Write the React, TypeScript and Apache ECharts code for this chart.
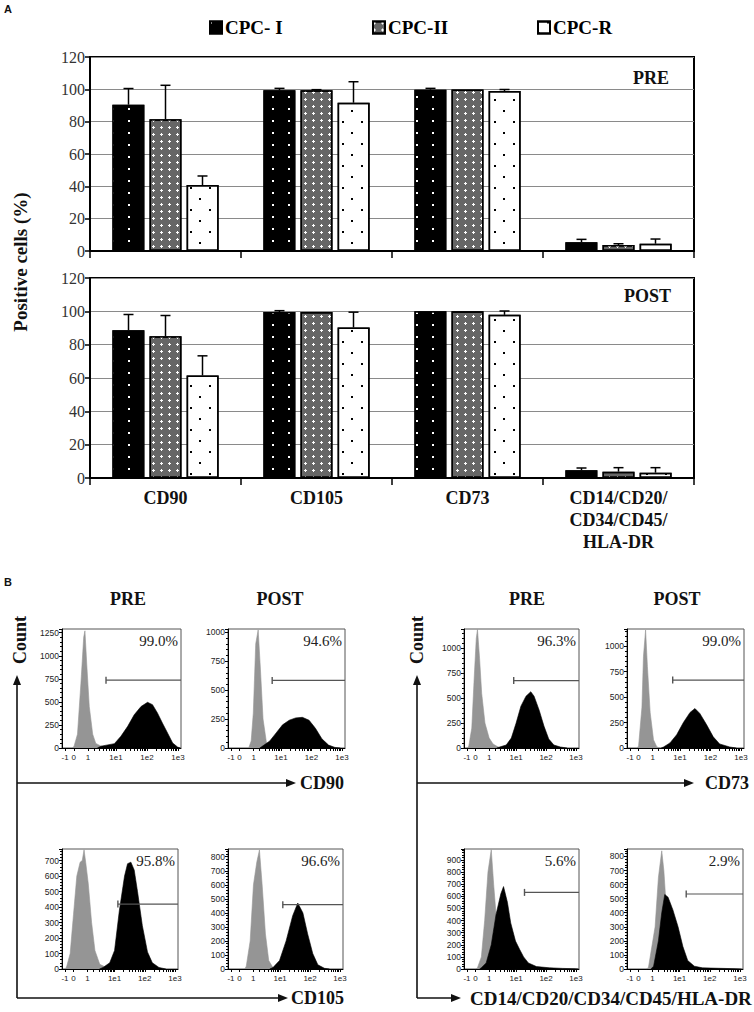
import React, { useEffect, useRef } from 'react';
import * as echarts from 'echarts';

const SERIF = '"Liberation Serif", "Times New Roman", serif';
const SANS = '"Liberation Sans", Arial, sans-serif';

// ---------- Panel A data ----------
const markers = ['CD90', 'CD105', 'CD73', 'CD14/CD20/\nCD34/CD45/\nHLA-DR'];
const groups = ['CPC- I', 'CPC-II', 'CPC-R'];

const preCPCI = [90.5, 99.4, 99.8, 5.4];
const preCPCII = [81.5, 99.4, 99.9, 3.7];
const preCPCR = [40.8, 91.7, 98.9, 4.5];
const preCPCIErr = [10, 1.2, 0.8, 1.8];
const preCPCIIErr = [21, 0.4, 0, 0.8];
const preCPCRErr = [5.6, 13, 1, 2.9];

const postCPCI = [88.7, 99.6, 100, 4.6];
const postCPCII = [85.1, 99.6, 100, 3.8];
const postCPCR = [61.5, 90.3, 97.9, 3.2];
const postCPCIErr = [9.4, 0.8, 0, 1.4];
const postCPCIIErr = [12.4, 0, 0, 2.4];
const postCPCRErr = [11.8, 9.2, 2.3, 3.0];

// ---------- Panel B data (display units: -1,0,1,1e1,1e2,1e3 on a biexponential scale) ----------
const xTickLabels = ['-1', '0', '1', '1e1', '1e2', '1e3'];
const xTickPos = [-0.64, -0.36, 0.1, 1, 2, 3];

const cd90PreIso = [[-0.4, 0], [-0.35, 20], [-0.24, 150], [-0.13, 700], [-0.04, 1200], [0, 1270], [0.06, 900], [0.14, 450], [0.25, 150], [0.35, 50], [0.52, 20], [0.73, 5], [0.9, 0]];
const cd90PreStain = [[0.4, 0], [0.52, 20], [0.95, 47], [1.16, 127], [1.38, 235], [1.59, 360], [1.81, 450], [2.02, 495], [2.18, 470], [2.34, 380], [2.5, 270], [2.67, 160], [2.83, 55], [2.99, 10], [3.08, 0]];
const cd90PostIso = [[-0.06, 0], [0.02, 60], [0.09, 300], [0.17, 900], [0.25, 1020], [0.32, 700], [0.41, 250], [0.52, 50], [0.65, 0]];
const cd90PostStain = [[0.3, 0], [0.36, 10], [0.63, 60], [0.84, 130], [1.05, 200], [1.27, 240], [1.48, 260], [1.7, 265], [1.92, 240], [2.13, 170], [2.34, 80], [2.56, 25], [2.77, 5], [2.95, 0]];
const cd73PreIso = [[-0.62, 0], [-0.58, 20], [-0.48, 200], [-0.4, 700], [-0.33, 1100], [-0.29, 1190], [-0.22, 900], [-0.15, 550], [-0.04, 250], [0.1, 100], [0.23, 40], [0.4, 10], [0.55, 0]];
const cd73PreStain = [[0.35, 0], [0.45, 10], [0.67, 30], [0.84, 100], [1.0, 250], [1.16, 420], [1.33, 520], [1.49, 565], [1.6, 520], [1.77, 380], [1.93, 220], [2.09, 90], [2.26, 30], [2.48, 10], [2.7, 0]];
const cd73PostIso = [[-0.4, 0], [-0.36, 20], [-0.25, 400], [-0.2, 900], [-0.13, 1160], [-0.07, 800], [0.02, 350], [0.13, 80], [0.24, 10], [0.35, 0]];
const cd73PostStain = [[0.38, 0], [0.46, 10], [0.67, 50], [0.89, 130], [1.11, 250], [1.33, 350], [1.49, 388], [1.65, 340], [1.87, 230], [2.09, 110], [2.3, 40], [2.63, 10], [2.85, 0]];
const cd105PreIso = [[-0.62, 0], [-0.58, 20], [-0.47, 100], [-0.36, 350], [-0.25, 600], [-0.14, 690], [-0.07, 700], [-0.01, 770], [0.05, 680], [0.13, 550], [0.24, 300], [0.35, 120], [0.51, 30], [0.73, 10], [0.9, 0]];
const cd105PreStain = [[0.5, 0], [0.62, 10], [0.84, 40], [1.0, 120], [1.16, 380], [1.33, 600], [1.43, 680], [1.54, 690], [1.65, 640], [1.76, 500], [1.92, 280], [2.09, 110], [2.25, 40], [2.47, 10], [2.7, 0]];
const cd105PostIso = [[-0.18, 0], [-0.13, 20], [0.0, 200], [0.11, 600], [0.22, 760], [0.31, 848], [0.4, 600], [0.51, 250], [0.62, 60], [0.76, 10], [0.9, 0]];
const cd105PostStain = [[0.65, 0], [0.76, 10], [0.98, 60], [1.2, 200], [1.42, 380], [1.59, 470], [1.76, 400], [1.92, 250], [2.09, 110], [2.26, 30], [2.48, 5], [2.65, 0]];
const linPreIso = [[-0.35, 0], [-0.29, 10], [-0.16, 100], [-0.05, 400], [0.06, 800], [0.17, 985], [0.25, 700], [0.33, 450], [0.44, 200], [0.6, 50], [0.82, 10], [1.0, 0]];
const linPreStain = [[-0.22, 0], [-0.16, 10], [0.0, 50], [0.17, 200], [0.33, 450], [0.49, 620], [0.58, 680], [0.71, 550], [0.82, 380], [0.98, 230], [1.12, 160], [1.25, 100], [1.41, 50], [1.68, 20], [2.11, 10], [2.55, 5], [2.98, 2], [3.08, 0]];
const linPostIso = [[-0.1, 0], [-0.03, 10], [0.19, 300], [0.3, 650], [0.41, 840], [0.48, 700], [0.57, 400], [0.68, 150], [0.84, 30], [1.0, 5], [1.1, 0]];
const linPostStain = [[0.05, 0], [0.14, 20], [0.3, 200], [0.41, 400], [0.51, 530], [0.62, 510], [0.78, 420], [0.95, 300], [1.11, 160], [1.27, 60], [1.49, 20], [1.76, 8], [2.3, 5], [2.84, 2], [3.05, 0]];

const histYMax = [1290, 1028, 1195, 1170, 775, 855, 990, 853];
const histYStep = [250, 250, 250, 250, 100, 100, 100, 100];
const histGateStart = [0.68, 0.71, 0.92, 0.76, 1.11, 1.09, 1.28, 1.22];
const histGateLevel = [735, 584, 677, 668, 419, 458, 632, 533];
const histPercent = ['99.0%', '94.6%', '96.3%', '99.0%', '95.8%', '96.6%', '5.6%', '2.9%'];
const histIso = [cd90PreIso, cd90PostIso, cd73PreIso, cd73PostIso, cd105PreIso, cd105PostIso, linPreIso, linPostIso];
const histStain = [cd90PreStain, cd90PostStain, cd73PreStain, cd73PostStain, cd105PreStain, cd105PostStain, linPreStain, linPostStain];

// ---------- layout ----------
const X_MIN = -0.74;
const X_MAX = 3.1;
const histBoxes = [
  { left: 62, top: 629, width: 119, height: 119 },
  { left: 228, top: 629, width: 117, height: 119 },
  { left: 464, top: 629, width: 115, height: 119 },
  { left: 627, top: 629, width: 117, height: 119 },
  { left: 62, top: 849, width: 116, height: 120 },
  { left: 228, top: 849, width: 115, height: 120 },
  { left: 464, top: 849, width: 115, height: 120 },
  { left: 627, top: 849, width: 116, height: 120 },
];
const BAR_W = 32;
const BAR_STEP = 37;

const minorX: number[] = [];
[0, 1, 2].forEach((d) => {
  for (let k = 2; k <= 9; k++) minorX.push(d + Math.log10(k));
});
const xTickAll = [...xTickPos, ...minorX.filter((v) => v > 0.25 && v < X_MAX)];

const barStyles = [
  {
    color: '#000',
    borderColor: '#000',
    borderWidth: 1.5,
    decal: { symbol: 'rect', symbolSize: 1, color: '#ffffff', dashArrayX: [1.6, 13.4], dashArrayY: [1.6, 9.4] },
  },
  {
    color: '#666666',
    borderColor: '#000',
    borderWidth: 1.5,
    decal: {
      symbol: 'path://M1 0H2V1H3V2H2V3H1V2H0V1H1Z',
      symbolSize: 1,
      color: '#ffffff',
      dashArrayX: [3, 4.5],
      dashArrayY: [3, 4],
    },
  },
  {
    color: '#ffffff',
    borderColor: '#000',
    borderWidth: 1.5,
    decal: {
      symbol: 'rect',
      symbolSize: 1,
      color: '#000000',
      dashArrayX: [[1.6, 16.4], [0, 9, 1.6, 7.4]],
      dashArrayY: [1.6, 8.4],
    },
  },
];

function buildOption() {
  const grid: any[] = [
    { left: 90, top: 57, width: 604, height: 194, show: true, borderColor: '#000', borderWidth: 2 },
    { left: 90, top: 278, width: 604, height: 200, show: true, borderColor: '#000', borderWidth: 2 },
  ];
  const xAxis: any[] = [];
  const yAxis: any[] = [];
  const series: any[] = [];

  [0, 1].forEach((g) => {
    xAxis.push({
      type: 'category',
      gridIndex: g,
      data: markers,
      axisLine: { lineStyle: { color: '#000', width: 2 } },
      axisTick: { show: true, length: 7, lineStyle: { color: '#000', width: 1.5 } },
      axisLabel:
        g === 1
          ? { show: true, interval: 0, fontFamily: SERIF, fontWeight: 'bold', fontSize: 18, color: '#111', lineHeight: 22, margin: 9 }
          : { show: false },
    });
    yAxis.push({
      type: 'value',
      gridIndex: g,
      min: 0,
      max: 120,
      interval: 20,
      axisLine: { show: true, lineStyle: { color: '#000', width: 2 } },
      axisTick: { show: true, length: 5, lineStyle: { color: '#000', width: 1.5 } },
      axisLabel: { fontFamily: SERIF, fontSize: 16, color: '#333', margin: 5 },
      splitLine: { show: true, lineStyle: { color: '#8a8a8a', width: 1.2 } },
    });
  });

  const panelA = [
    { g: 0, vals: [preCPCI, preCPCII, preCPCR], errs: [preCPCIErr, preCPCIIErr, preCPCRErr] },
    { g: 1, vals: [postCPCI, postCPCII, postCPCR], errs: [postCPCIErr, postCPCIIErr, postCPCRErr] },
  ];
  panelA.forEach(({ g, vals, errs }) => {
    vals.forEach((v, k) => {
      series.push({
        type: 'bar',
        name: groups[k],
        xAxisIndex: g,
        yAxisIndex: g,
        data: v,
        barWidth: BAR_W,
        barGap: '16%',
        itemStyle: barStyles[k],
        z: 2,
      });
    });
    vals.forEach((v, k) => {
      series.push({
        type: 'custom',
        name: 'err-' + g + '-' + k,
        xAxisIndex: g,
        yAxisIndex: g,
        z: 4,
        silent: true,
        data: v.map((val, i) => [i, val, val + errs[k][i]]),
        encode: { x: 0, y: [1, 2] },
        renderItem: (params: any, api: any) => {
          const i = api.value(0);
          const lo = api.value(1);
          const hi = api.value(2);
          if (hi - lo < 0.05) return null;
          const p0 = api.coord([i, lo]);
          const p1 = api.coord([i, hi]);
          const x = p0[0] + (k - 1) * BAR_STEP;
          const st = { stroke: '#000', lineWidth: 1.5 };
          return {
            type: 'group',
            children: [
              { type: 'line', shape: { x1: x, y1: p0[1], x2: x, y2: p1[1] }, style: st },
              { type: 'line', shape: { x1: x - 5, y1: p1[1], x2: x + 5, y2: p1[1] }, style: st },
            ],
          };
        },
      });
    });
  });

  const graphic: any[] = [];

  histBoxes.forEach((box, h) => {
    const g = 2 + h;
    grid.push({ ...box, show: true, borderColor: '#555', borderWidth: 1 });
    xAxis.push({
      type: 'value',
      gridIndex: g,
      min: X_MIN,
      max: X_MAX,
      axisLine: { show: true, onZero: false, lineStyle: { color: '#000', width: 1 } },
      axisTick: { show: true, customValues: xTickAll, length: 3, lineStyle: { color: '#000', width: 1 } },
      axisLabel: {
        customValues: xTickPos,
        formatter: (v: number) => {
          const idx = xTickPos.findIndex((p) => Math.abs(p - v) < 1e-6);
          return idx >= 0 ? xTickLabels[idx] : '';
        },
        fontFamily: SANS,
        fontSize: 8,
        color: '#222',
        margin: 5,
        hideOverlap: false,
      },
      splitLine: { show: false },
    });
    const step = histYStep[h];
    yAxis.push({
      type: 'value',
      gridIndex: g,
      min: 0,
      max: histYMax[h],
      interval: step,
      axisLine: { show: true, onZero: false, lineStyle: { color: '#000', width: 1 } },
      axisTick: { show: true, length: 3, lineStyle: { color: '#000', width: 1 } },
      minorTick: { show: true, splitNumber: 5, length: 2, lineStyle: { color: '#000', width: 1 } },
      axisLabel: {
        fontFamily: SANS,
        fontSize: 8.5,
        color: '#222',
        margin: 3,
        formatter: (v: number) => (Math.abs(v / step - Math.round(v / step)) < 1e-6 ? String(v) : ''),
      },
      splitLine: { show: false },
    });
    series.push({
      type: 'line',
      name: 'iso-' + h,
      xAxisIndex: g,
      yAxisIndex: g,
      data: histIso[h],
      symbol: 'none',
      lineStyle: { width: 0.6, color: '#959595' },
      itemStyle: { color: '#959595' },
      areaStyle: { color: '#959595', opacity: 1 },
      z: 2,
    });
    series.push({
      type: 'line',
      name: 'stain-' + h,
      xAxisIndex: g,
      yAxisIndex: g,
      data: histStain[h],
      symbol: 'none',
      lineStyle: { width: 0.6, color: '#000' },
      itemStyle: { color: '#000' },
      areaStyle: { color: '#000', opacity: 1 },
      z: 3,
    });
    series.push({
      type: 'line',
      name: 'gate-' + h,
      xAxisIndex: g,
      yAxisIndex: g,
      symbol: 'none',
      showSymbol: true,
      data: [
        { value: [histGateStart[h], histGateLevel[h]], symbol: 'rect', symbolSize: [1.4, 7] },
        { value: [X_MAX, histGateLevel[h]], symbol: 'none' },
      ],
      lineStyle: { color: '#555', width: 1.2 },
      itemStyle: { color: '#555' },
      z: 4,
    });
    graphic.push({
      type: 'text',
      x: box.left + box.width - 3,
      y: box.top + 12,
      style: { text: histPercent[h], fontFamily: SERIF, fontSize: 15, fill: '#222', align: 'right', verticalAlign: 'middle' },
      z: 10,
    });
  });

  const txt = (text: string, x: number, y: number, opts: any = {}) => ({
    type: 'text',
    x,
    y,
    rotation: opts.rotation || 0,
    style: {
      text,
      fontFamily: opts.family || SERIF,
      fontWeight: opts.weight || 'bold',
      fontSize: opts.size || 18,
      fill: '#111',
      align: opts.align || 'center',
      verticalAlign: 'middle',
    },
    z: 10,
  });

  graphic.push(txt('A', 4, 9, { family: SANS, size: 11, align: 'left' }));
  graphic.push(txt('B', 4, 582, { family: SANS, size: 11, align: 'left' }));
  graphic.push(txt('Positive cells (%)', 20, 262, { rotation: Math.PI / 2, size: 19 }));
  graphic.push(txt('PRE', 669, 78, { align: 'right' }));
  graphic.push(txt('POST', 671, 296, { align: 'right' }));

  [128, 280, 527, 677].forEach((x, i) => graphic.push(txt(i % 2 === 0 ? 'PRE' : 'POST', x, 599)));
  graphic.push(txt('Count', 20, 640, { rotation: Math.PI / 2 }));
  graphic.push(txt('Count', 417, 640, { rotation: Math.PI / 2 }));

  const lineSt = { stroke: '#111', lineWidth: 1.6, fill: null };
  const arrowH = (x: number, y: number) => ({
    type: 'polygon',
    shape: { points: [[x, y], [x - 10, y - 4], [x - 10, y + 4]] },
    style: { fill: '#111' },
    z: 10,
  });
  const arrowUp = (x: number, y: number) => ({
    type: 'polygon',
    shape: { points: [[x, y], [x - 4, y + 10], [x + 4, y + 10]] },
    style: { fill: '#111' },
    z: 10,
  });
  [17, 417].forEach((ax) => {
    graphic.push({ type: 'polyline', shape: { points: [[ax, 998], [ax, 683]] }, style: lineSt, z: 10 });
    graphic.push(arrowUp(ax, 675));
  });
  graphic.push({ type: 'polyline', shape: { points: [[17, 783], [288, 783]] }, style: lineSt, z: 10 });
  graphic.push(arrowH(296, 783));
  graphic.push(txt('CD90', 300, 783, { align: 'left' }));
  graphic.push({ type: 'polyline', shape: { points: [[17, 998], [280, 998]] }, style: lineSt, z: 10 });
  graphic.push(arrowH(288, 998));
  graphic.push(txt('CD105', 291, 998, { align: 'left' }));
  graphic.push({ type: 'polyline', shape: { points: [[417, 783], [686, 783]] }, style: lineSt, z: 10 });
  graphic.push(arrowH(694, 783));
  graphic.push(txt('CD73', 705, 783, { align: 'left' }));
  graphic.push({ type: 'polyline', shape: { points: [[417, 998], [453, 998]] }, style: lineSt, z: 10 });
  graphic.push(arrowH(461, 998));
  graphic.push(txt('CD14/CD20/CD34/CD45/HLA-DR', 470, 998, { align: 'left', size: 19 }));

  const legendLeft = [209, 372, 537];
  const legend = groups.map((name, k) => ({
    data: [name],
    left: legendLeft[k],
    top: 18,
    padding: 0,
    itemWidth: 12,
    itemHeight: 12,
    icon: 'rect',
    selectedMode: false,
    textStyle: { fontFamily: SERIF, fontWeight: 'bold', fontSize: 19, color: '#000', padding: [0, 0, 0, -2] },
  }));

  return {
    animation: false,
    backgroundColor: '#ffffff',
    textStyle: { fontFamily: SERIF },
    legend,
    grid,
    xAxis,
    yAxis,
    series,
    graphic,
  };
}

export default function App() {
  const ref = useRef<HTMLDivElement>(null);
  useEffect(() => {
    if (!ref.current) return;
    const chart = echarts.init(ref.current, null, { renderer: 'svg' });
    chart.setOption(buildOption() as any);
    return () => chart.dispose();
  }, []);
  return (
    <div
      ref={ref}
      style={{ position: 'fixed', left: 0, top: 0, width: 754, height: 1012, background: '#fff' }}
    />
  );
}
